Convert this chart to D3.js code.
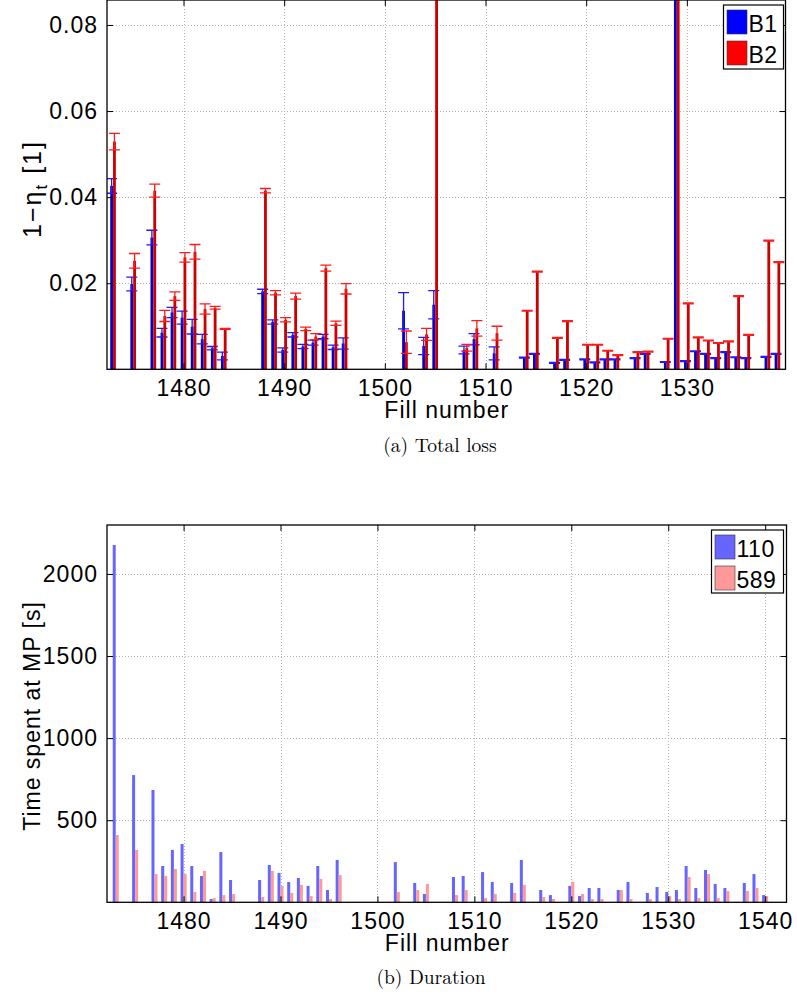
<!DOCTYPE html>
<html>
<head>
<meta charset="utf-8">
<script src="https://cdn.jsdelivr.net/npm/d3@7"></script>
<style>
  body { margin: 0; background: #fff; }
  svg { display: block; }
</style>
</head>
<body>
<script>
// Fill numbers shared by both panels
const fills = [1473, 1475, 1477, 1478, 1479, 1480, 1481, 1482, 1483, 1484, 1485,
  1488, 1489, 1490, 1491, 1492, 1493, 1494, 1495, 1496, 1502, 1504, 1505, 1508,
  1509, 1511, 1512, 1514, 1515, 1517, 1518, 1520, 1521, 1522, 1523, 1525, 1526,
  1528, 1529, 1530, 1531, 1532, 1533, 1534, 1535, 1536, 1538, 1539, 1540];

// (a) total loss 1 - eta_t per beam, with uncertainty
const lossB1 = [0.0426, 0.0198, 0.0306, 0.0085, 0.0132, 0.0120, 0.0099, 0.0070, 0.0049, 0.0031, null,
  0.0181, 0.0110, 0.0045, 0.0080, 0.0053, 0.0062, 0.0076, 0.0051, 0.0060, 0.0136, 0.0054, 0.0150, 0.0045,
  0.0070, 0.0037, null, 0.0027, 0.0036, 0.0015, 0.0022, 0.0023, 0.0016, 0.0023, 0.0023, 0.0026, 0.0036,
  0.0017, 0.2000, 0.0019, 0.0042, 0.0036, 0.0026, 0.0040, 0.0028, 0.0026, 0.0029, 0.0036, null];
const errB1 = [0.0017, 0.0016, 0.0017, 0.0010, 0.0012, 0.0015, 0.0017, 0.0011, 0.0004, 0.0009, null,
  0.0005, 0.0005, 0.0005, 0.0005, 0.0005, 0.0006, 0.0005, 0.0005, 0.0013, 0.0042, 0.0020, 0.0033, 0.0009,
  0.0013, 0.0015, null, 0.0001, 0.0001, 0.0001, 0.0001, 0.0001, 0.0001, 0.0001, 0.0001, 0.0001, 0.0001,
  0.0001, 0.0030, 0.0001, 0.0001, 0.0001, 0.0001, 0.0001, 0.0001, 0.0001, 0.0001, 0.0001, null];
const lossB2 = [0.0529, 0.0252, 0.0415, 0.0124, 0.0170, 0.0260, 0.0273, 0.0140, 0.0143, 0.0094, null,
  0.0415, 0.0178, 0.0115, 0.0170, 0.0094, 0.0076, 0.0235, 0.0107, 0.0187, 0.0063, 0.0081, 0.2000, 0.0050,
  0.0095, 0.0084, null, 0.0136, 0.0227, 0.0073, 0.0112, 0.0057, 0.0057, 0.0043, 0.0033, 0.0040, 0.0041,
  0.0071, 0.2000, 0.0153, 0.0074, 0.0067, 0.0061, 0.0065, 0.0170, 0.0080, 0.0299, 0.0249, null];
const errB2 = [0.0019, 0.0017, 0.0015, 0.0013, 0.0010, 0.0011, 0.0017, 0.0012, 0.0003, 0.0001, null,
  0.0005, 0.0005, 0.0005, 0.0007, 0.0004, 0.0007, 0.0007, 0.0005, 0.0012, 0.0026, 0.0014, 0.0030, 0.0008,
  0.0018, 0.0016, null, 0.0001, 0.0001, 0.0001, 0.0001, 0.0001, 0.0001, 0.0001, 0.0001, 0.0001, 0.0001,
  0.0001, 0.0030, 0.0001, 0.0001, 0.0001, 0.0001, 0.0001, 0.0001, 0.0001, 0.0001, 0.0001, null];

// (b) time spent at MP [s] for the two settings
const time110 = [2176, 775, 684, 221, 319, 355, 221, 160, 20, 306, 136,
  136, 227, 179, 124, 148, 100, 221, 75, 258, 245, 118, 51, 154,
  160, 184, 124, 118, 258, 75, 44, 100, 38, 87, 87, 75, 124,
  57, 93, 63, 75, 221, 87, 197, 112, 87, 118, 172, 44];
const time589 = [410, 319, 172, 160, 203, 172, 63, 191, 26, 44, 50,
  32, 191, 99, 57, 106, 38, 142, 20, 166, 63, 75, 112, 44,
  75, 26, 51, 57, 106, 32, 20, 124, 51, 20, 20, 75, 20,
  20, 0, 38, 20, 154, 26, 172, 26, 69, 69, 87, 38];

const lossTicks = [0.02, 0.04, 0.06, 0.08];
const timeTicks = [500, 1000, 1500, 2000];
const fillTicksTop = [1480, 1490, 1500, 1510, 1520, 1530];
const fillTicksBottom = [1480, 1490, 1500, 1510, 1520, 1530, 1540];

const W = 797, H = 994;
const FONT = 23;
const SANS = "'Liberation Sans', Arial, Helvetica, sans-serif";
const SERIF = "'Latin Modern Roman', 'DejaVu Serif', 'Liberation Serif', serif";
const svg = d3.select("body").append("svg").attr("width", W).attr("height", H)
  .style("font-family", SANS);

function drawPanel(p) {
  const g = svg.append("g");
  const x = d3.scaleLinear().domain(p.xDomain).range([p.left, p.right]);
  const y = d3.scaleLinear().domain(p.yDomain).range([p.bottom, p.top]);
  const clipId = "clip-" + p.id;
  svg.append("clipPath").attr("id", clipId)
    .append("rect").attr("x", p.left).attr("y", p.top)
    .attr("width", p.right - p.left).attr("height", p.bottom - p.top);

  // dotted grid
  const grid = g.append("g").attr("stroke", "#b4b4b4").attr("stroke-width", 1)
    .attr("stroke-dasharray", "1,2");
  grid.selectAll("line.gx").data(p.xTicks).join("line")
    .attr("x1", d => Math.round(x(d)) + 0.5).attr("x2", d => Math.round(x(d)) + 0.5)
    .attr("y1", p.top).attr("y2", p.bottom);
  grid.selectAll("line.gy").data(p.yTicks).join("line")
    .attr("x1", p.left).attr("x2", p.right)
    .attr("y1", d => Math.round(y(d)) + 0.5).attr("y2", d => Math.round(y(d)) + 0.5);

  const plot = g.append("g").attr("clip-path", `url(#${clipId})`);
  p.series.forEach((s, si) => {
    const off = si === 0 ? -p.barW : 0;
    const rows = fills.map((f, i) => ({ f, v: s.values[i], e: s.err ? s.err[i] : null }))
      .filter(d => d.v != null && d.v > 0);
    plot.append("g").selectAll("rect").data(rows).join("rect")
      .attr("x", d => x(d.f + off))
      .attr("width", d => x(d.f + off + p.barW) - x(d.f + off))
      .attr("y", d => y(d.v))
      .attr("height", d => y(0) - y(d.v))
      .attr("fill", s.fill);
    if (s.err) {
      const eb = plot.append("g").attr("stroke", s.errColor).attr("stroke-width", 1.3).attr("fill", "none");
      const cx = d => x(d.f + off + p.barW / 2);
      const cap = 5.5;
      eb.selectAll("path").data(rows).join("path")
        .attr("d", d => {
          const c = cx(d), y1 = y(d.v - d.e), y2 = y(d.v + d.e);
          return `M${c},${y1}V${y2}M${c - cap},${y1}H${c + cap}M${c - cap},${y2}H${c + cap}`;
        });
    }
  });

  // axes with inward ticks on all four sides
  const tick = 6;
  const ax = g.append("g");
  ax.append("g").attr("transform", `translate(0,${p.bottom})`)
    .call(d3.axisBottom(x).tickValues(p.xTicks).tickFormat(d3.format("d"))
      .tickSizeInner(-tick).tickSizeOuter(0).tickPadding(10));
  ax.append("g").attr("transform", `translate(0,${p.top})`)
    .call(d3.axisTop(x).tickValues(p.xTicks).tickFormat("").tickSizeInner(-tick).tickSizeOuter(0));
  ax.append("g").attr("transform", `translate(${p.left},0)`)
    .call(d3.axisLeft(y).tickValues(p.yTicks).tickFormat(p.yFormat)
      .tickSizeInner(-tick).tickSizeOuter(0).tickPadding(9));
  ax.append("g").attr("transform", `translate(${p.right},0)`)
    .call(d3.axisRight(y).tickValues(p.yTicks).tickFormat("").tickSizeInner(-tick).tickSizeOuter(0));
  ax.selectAll(":scope > g").attr("font-size", FONT).attr("font-family", SANS);
  ax.selectAll(".domain").remove();
  ax.selectAll(".tick line").attr("stroke", "#000").attr("stroke-width", 1);
  ax.selectAll(".tick text").attr("fill", "#000").attr("letter-spacing", "1px");

  g.append("rect").attr("x", p.left).attr("y", p.top)
    .attr("width", p.right - p.left).attr("height", p.bottom - p.top)
    .attr("fill", "none").attr("stroke", "#000").attr("stroke-width", 1.3);

  // axis titles
  g.append("text").attr("x", (p.left + p.right) / 2 + 0.5).attr("y", p.xTitleY)
    .attr("text-anchor", "middle").attr("font-size", FONT).attr("letter-spacing", "1px")
    .text("Fill number");
  const yt = g.append("text")
    .attr("transform", `translate(${p.yTitleX},${p.yTitleY}) rotate(-90)`)
    .attr("text-anchor", "middle").attr("font-size", FONT).attr("letter-spacing", "1px");
  p.yTitle(yt);

  // caption
  g.append("text").attr("x", p.captionX).attr("y", p.captionY).attr("text-anchor", "middle")
    .style("font-family", SERIF).attr("font-size", 19.5)
    .text(p.caption);

  // legend
  const L = p.legend;
  const lg = g.append("g");
  lg.append("rect").attr("x", L.x).attr("y", L.y).attr("width", L.w).attr("height", L.h)
    .attr("fill", "#fff").attr("stroke", "#000").attr("stroke-width", 1.2);
  p.series.forEach((s, i) => {
    const ry = L.y + 5 + i * L.row;
    lg.append("rect").attr("x", L.x + 3.5).attr("y", ry).attr("width", 20).attr("height", L.row - 7)
      .attr("fill", s.legendFill).attr("stroke", "#333").attr("stroke-width", 0.6);
    lg.append("text").attr("x", L.x + 25).attr("y", ry + L.row - 9)
      .attr("font-size", FONT).attr("letter-spacing", "0.5px").text(s.name);
  });
}

drawPanel({
  id: "loss",
  left: 107, right: 785.5, top: 0, bottom: 369.3,
  xDomain: [1472.4, 1539.8], yDomain: [0, 0.0858],
  xTicks: fillTicksTop, yTicks: lossTicks, yFormat: d3.format(".2f"),
  barW: 0.28,
  series: [
    { name: "B1", values: lossB1, err: errB1, fill: "#0000cc", errColor: "#1a1aff", legendFill: "#0000ff" },
    { name: "B2", values: lossB2, err: errB2, fill: "#cc0000", errColor: "#ff1a1a", legendFill: "#ff0000" }
  ],
  xTitleY: 418, yTitleX: 41, yTitleY: 189,
  yTitle: t => {
    t.attr("font-size", 25).attr("letter-spacing", "2px");
    t.append("tspan").text("1\u2212\u03B7");
    t.append("tspan").attr("font-size", 17).attr("dy", 6).text("t");
    t.append("tspan").attr("dy", -6).text(" [1]");
  },
  caption: "(a) Total loss", captionX: 440, captionY: 452,
  legend: { x: 723.5, y: 5, w: 60, h: 64, row: 31 }
});

drawPanel({
  id: "time",
  left: 107, right: 786.5, top: 525, bottom: 902.3,
  xDomain: [1472.1, 1542.2], yDomain: [0, 2298],
  xTicks: fillTicksBottom, yTicks: timeTicks, yFormat: d3.format("d"),
  barW: 0.31,
  series: [
    { name: "110", values: time110, fill: "#6666ff", legendFill: "#6666ff" },
    { name: "589", values: time589, fill: "#ff9999", legendFill: "#ff9999" }
  ],
  xTitleY: 951, yTitleX: 40, yTitleY: 716,
  yTitle: t => t.text("Time spent at MP [s]"),
  caption: "(b) Duration", captionX: 431, captionY: 984,
  legend: { x: 711.5, y: 530, w: 72, h: 63, row: 31 }
});
</script>
</body>
</html>
